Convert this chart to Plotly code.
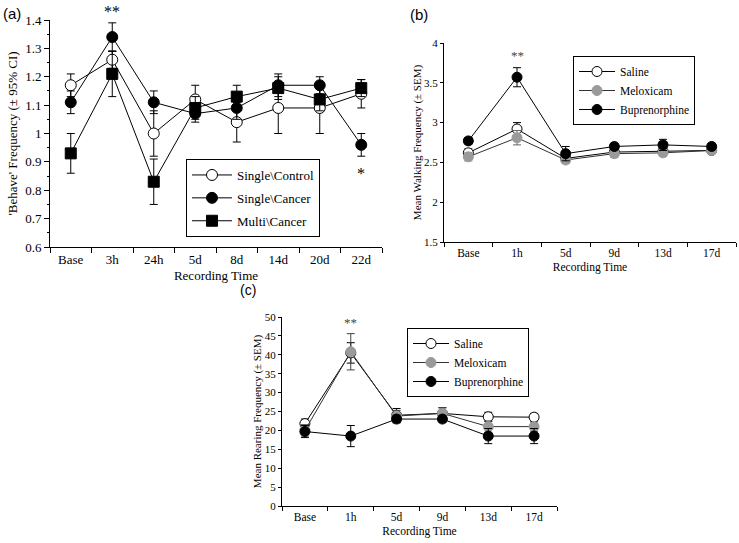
import plotly.graph_objects as go

W, H = 739, 543

# ---------------- Data ----------------
cats_a = ["Base", "3h", "24h", "5d", "8d", "14d", "20d", "22d"]
ctrl_a = [1.17, 1.26, 1.00, 1.12, 1.04, 1.09, 1.09, 1.14]
ctrl_a_err = [0.04, 0.03, 0.08, 0.05, 0.07, 0.09, 0.09, 0.05]
canc_a = [1.11, 1.34, 1.11, 1.07, 1.09, 1.17, 1.17, 0.96]
canc_a_err = [0.04, 0.05, 0.04, 0.03, 0.04, 0.04, 0.03, 0.04]
multi_a = [0.93, 1.21, 0.83, 1.09, 1.13, 1.16, 1.12, 1.16]
multi_a_err = [0.07, 0.08, 0.08, 0.04, 0.04, 0.04, 0.04, 0.03]
ticks_a = [0.6, 0.7, 0.8, 0.9, 1.0, 1.1, 1.2, 1.3, 1.4]
ticktext_a = ["0.6", "0.7", "0.8", "0.9", "1", "1.1", "1.2", "1.3", "1.4"]

cats_bc = ["Base", "1h", "5d", "9d", "13d", "17d"]
sal_b = [2.62, 2.92, 2.55, 2.63, 2.64, 2.65]
sal_b_err = [0.05, 0.08, 0.04, 0.04, 0.04, 0.04]
mel_b = [2.57, 2.81, 2.53, 2.61, 2.62, 2.65]
mel_b_err = [0.05, 0.09, 0.04, 0.05, 0.04, 0.04]
bup_b = [2.77, 3.57, 2.61, 2.70, 2.72, 2.70]
bup_b_err = [0.04, 0.12, 0.09, 0.04, 0.07, 0.04]
ticks_b = [1.5, 2, 2.5, 3, 3.5, 4]
ticktext_b = ["1.5", "2", "2.5", "3", "3.5", "4"]

sal_c = [21.8, 40.5, 24.0, 24.5, 23.6, 23.5]
sal_c_err = [1.2, 2.7, 1.8, 1.5, 1.2, 1.0]
mel_c = [20.0, 40.8, 23.8, 24.5, 21.0, 21.0]
mel_c_err = [1.5, 4.8, 1.5, 1.5, 1.5, 1.2]
bup_c = [19.7, 18.5, 23.0, 23.0, 18.5, 18.5]
bup_c_err = [1.6, 2.8, 1.0, 0.8, 2.0, 2.0]
ticks_c = [0, 5, 10, 15, 20, 25, 30, 35, 40, 45, 50]

SERIF = "Liberation Serif"
SANS = "Liberation Sans"
GRAY = "#9a9a9a"


def px_x(p):
    return p / W


def px_y(p):
    return 1 - p / H


fig = go.Figure()


def add(x, y, err, name, xa, ya, legend, symbol, fill, msize, ecolor="black", lcolor="black"):
    fig.add_trace(go.Scatter(
        x=x, y=y, name=name, xaxis=xa, yaxis=ya, legend=legend,
        legendgroup=legend + name,
        mode="lines+markers",
        line=dict(color=lcolor, width=1),
        marker=dict(symbol=symbol, size=msize, color=fill,
                    line=dict(color=GRAY if fill == GRAY else "black", width=1)),
        error_y=dict(type="data", array=err, visible=True, color=ecolor,
                     thickness=1, width=4),
    ))


# Panel (a)
add(cats_a, ctrl_a, ctrl_a_err, "Single\\Control", "x", "y", "legend", "circle", "white", 11)
add(cats_a, canc_a, canc_a_err, "Single\\Cancer", "x", "y", "legend", "circle", "black", 11)
add(cats_a, multi_a, multi_a_err, "Multi\\Cancer", "x", "y", "legend", "square", "black", 11)

# Panel (b)
add(cats_bc, sal_b, sal_b_err, "Saline", "x2", "y2", "legend2", "circle", "white", 10)
add(cats_bc, mel_b, mel_b_err, "Meloxicam", "x2", "y2", "legend2", "circle", GRAY, 10, ecolor="#666666", lcolor="#333333")
add(cats_bc, bup_b, bup_b_err, "Buprenorphine", "x2", "y2", "legend2", "circle", "black", 10)

# Panel (c)
add(cats_bc, sal_c, sal_c_err, "Saline", "x3", "y3", "legend3", "circle", "white", 10)
add(cats_bc, mel_c, mel_c_err, "Meloxicam", "x3", "y3", "legend3", "circle", GRAY, 10, ecolor="#444444", lcolor="#333333")
add(cats_bc, bup_c, bup_c_err, "Buprenorphine", "x3", "y3", "legend3", "circle", "black", 10)


def xaxis(domain, anchor, cats, fs, tfs, title, standoff, ticklen=5):
    return dict(domain=domain, anchor=anchor, type="category",
                categoryorder="array", categoryarray=cats,
                range=[-0.5, len(cats) - 0.5], automargin=False,
                showline=True, linecolor="black", linewidth=1,
                ticks="outside", ticklen=ticklen, tickcolor="black", tickson="boundaries",
                showgrid=False, zeroline=False,
                tickfont=dict(family=SERIF, size=fs, color="black"),
                title=dict(text=title, font=dict(family=SERIF, size=tfs, color="black"),
                           standoff=standoff))


def yaxis(domain, anchor, rng, tv, tt, fs, title, standoff, minor_dtick=None, ticklen=5):
    d = dict(domain=domain, anchor=anchor, range=rng, automargin=False,
             tickvals=tv, ticktext=tt,
             showline=True, linecolor="black", linewidth=1,
             ticks="outside", ticklen=ticklen, tickcolor="black",
             showgrid=False, zeroline=False,
             tickfont=dict(family=SERIF, size=fs, color="black"),
             title=dict(text=title, font=dict(family=SERIF, size=fs, color="black"),
                        standoff=standoff))
    if minor_dtick:
        d["minor"] = dict(ticks="outside", ticklen=2, tickcolor="black", dtick=minor_dtick,
                          tick0=rng[0], showgrid=False)
    return d


def legend(x, y, fs, gap, iw, order="normal"):
    return dict(x=x, y=y, xanchor="left", yanchor="top", xref="paper", yref="paper",
                bordercolor="black", borderwidth=1, bgcolor="white",
                font=dict(family=SERIF, size=fs, color="black"),
                tracegroupgap=gap, itemwidth=iw, traceorder=order)


fig.update_layout(
    width=W, height=H, margin=dict(l=0, r=0, t=0, b=0, pad=0, autoexpand=False),
    paper_bgcolor="white", plot_bgcolor="white",
    showlegend=True,
    xaxis=xaxis([px_x(50), px_x(382)], "y", cats_a, 13, 13, "Recording Time", 5),
    yaxis=yaxis([px_y(247), px_y(20)], "x", [0.6, 1.4], ticks_a, ticktext_a, 13,
                "'Behave' Frequency (± 95% CI)", 4, 0.05),
    xaxis2=xaxis([px_x(444), px_x(736)], "y2", cats_bc, 11.5, 11.5, "Recording Time", 5, 4),
    yaxis2=yaxis([px_y(242), px_y(43)], "x2", [1.5, 4], ticks_b, ticktext_b, 11,
                 "Mean Walking Frequency (± SEM)", 0, None, 3),
    xaxis3=xaxis([px_x(282), px_x(557)], "y3", cats_bc, 11.5, 11.5, "Recording Time", 5, 4),
    yaxis3=yaxis([px_y(506), px_y(317)], "x3", [0, 50], ticks_c, [str(v) for v in ticks_c], 11,
                 "Mean Rearing Frequency (± SEM)", 0, None, 3),
    legend=legend(px_x(186), px_y(159), 13, 3, 40, "grouped"),
    legend2=legend(px_x(573), px_y(56), 11.5, 1, 36),
    legend3=legend(px_x(407), px_y(328), 11.5, 4, 36),
)

annos = [
    dict(text="(a)", x=px_x(1), y=px_y(13), xref="paper", yref="paper", xanchor="left", yanchor="middle",
         font=dict(family=SANS, size=15, color="black"), showarrow=False),
    dict(text="(b)", x=px_x(408), y=px_y(14), xref="paper", yref="paper", xanchor="left", yanchor="middle",
         font=dict(family=SANS, size=15, color="black"), showarrow=False),
    dict(text="(c)", x=px_x(238), y=px_y(290), xref="paper", yref="paper", xanchor="left", yanchor="middle",
         font=dict(family=SANS, size=14, color="black"), showarrow=False),
    dict(text="**", x="3h", y=px_y(12), xref="x", yref="paper", yanchor="middle",
         font=dict(family=SERIF, size=16, color="black"), showarrow=False),
    dict(text="*", x="22d", y=0.86, xref="x", yref="y", yanchor="middle",
         font=dict(family=SERIF, size=16, color="black"), showarrow=False),
    dict(text="**", x="1h", y=3.84, xref="x2", yref="y2", yanchor="middle",
         font=dict(family=SERIF, size=13, color="#444444"), showarrow=False),
    dict(text="**", x="1h", y=48.5, xref="x3", yref="y3", yanchor="middle",
         font=dict(family=SERIF, size=13, color="#444444"), showarrow=False),
]
fig.update_layout(annotations=annos)

fig.write_html("out.html", config={"displayModeBar": False},
               post_script="document.body.style.margin='0';")
